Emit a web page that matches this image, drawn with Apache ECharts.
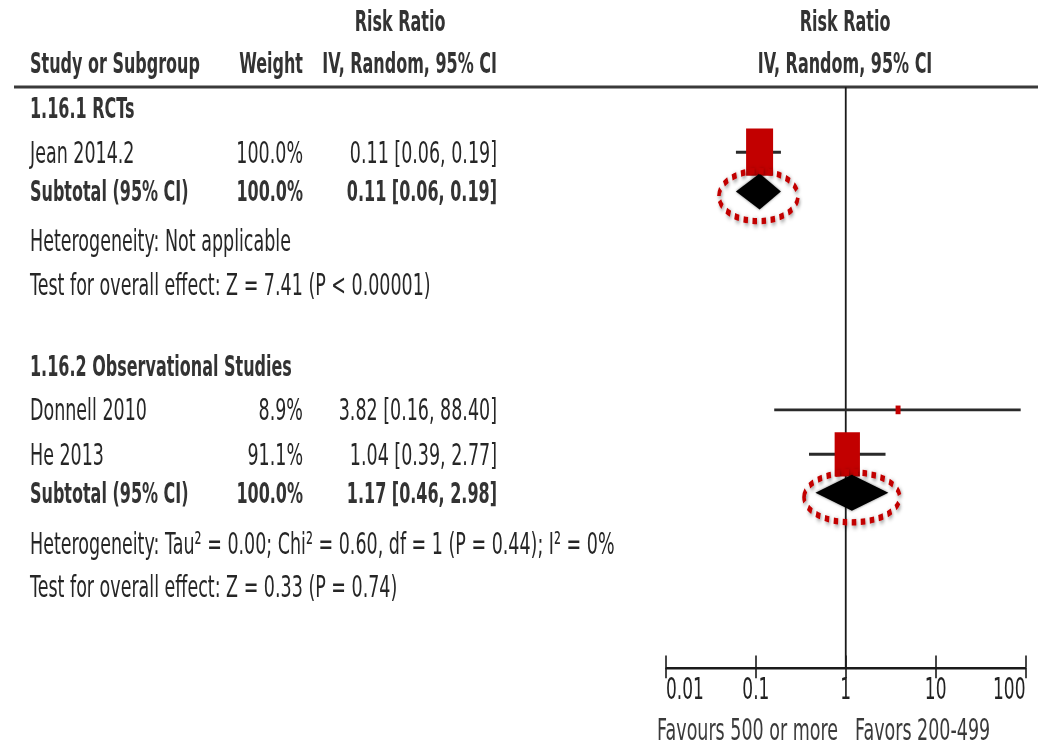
<!DOCTYPE html>
<html>
<head>
<meta charset="utf-8">
<title>Risk Ratio forest plot</title>
<script src="https://cdn.jsdelivr.net/npm/echarts@6/dist/echarts.min.js"></script>
<style>
  html, body { margin: 0; padding: 0; background: #fff; overflow: hidden; }
  #wrap { width: 1038px; height: 747px; overflow: hidden; }
  /* the plot is laid out at 1038x427 and stretched vertically to fill the page */
  #chart { width: 1038px; height: 427px; transform: scaleY(1.7494); transform-origin: 0 0; }
</style>
</head>
<body>
<div id="wrap"><div id="chart"></div></div>
<script>
// ---- data ----
const groupNames = ['1.16.1 RCTs', '1.16.2 Observational Studies'];
const studyNames = ['Jean 2014.2', 'Donnell 2010', 'He 2013'];
const studyGroup = [0, 1, 1];
const studyWeights = [100.0, 8.9, 91.1];
const studyRR = [0.11, 3.82, 1.04];
const studyLow = [0.06, 0.16, 0.39];
const studyHigh = [0.19, 88.40, 2.77];
const subtotalLabel = 'Subtotal (95% CI)';
const subtotalWeights = [100.0, 100.0];
const subtotalRR = [0.11, 1.17];
const subtotalLow = [0.06, 0.46];
const subtotalHigh = [0.19, 2.98];
const heterogeneityText = [
  'Heterogeneity: Not applicable',
  'Heterogeneity: Tau\u00B2 = 0.00; Chi\u00B2 = 0.60, df = 1 (P = 0.44); I\u00B2 = 0%'
];
const overallEffectText = [
  'Test for overall effect: Z = 7.41 (P < 0.00001)',
  'Test for overall effect: Z = 0.33 (P = 0.74)'
];
const tickValues = [0.01, 0.1, 1, 10, 100];
const headerTitle = 'Risk Ratio';
const headerColumns = ['Study or Subgroup', 'Weight', 'IV, Random, 95% CI'];
const favourLabels = ['Favours 500 or more', 'Favors 200-499'];

// ---- layout ----
// row positions in y-axis units (measured down from the header rule)
const LAYOUT = {
  groupRow: [12, 159.6],
  studyRow: [37.3, 184.6, 210.0],
  subtotalRow: [59.8, 232.0],
  hetRow: [88.0, 260.8],
  effectRow: [113.0, 285.8]
};
const ROWS_MAX = 332;
const GRID = { left: 666, right: 12.5, top: 49.7, height: ROWS_MAX };
const COL = { study: 30, weight: 303, ci: 497, riskTitle: 400 };
const FONT = 'DejaVu Sans';
const TXT = '#262626';
const BOLD_TXT = '#333333';
const RED = '#c20000';
const BOX_MAX = 27;

const pct = w => w.toFixed(1) + '%';
const ciText = (rr, lo, hi) => rr.toFixed(2) + ' [' + lo.toFixed(2) + ', ' + hi.toFixed(2) + ']';

// table rows built from the arrays above
const tableRows = [];
groupNames.forEach((g, gi) => {
  tableRows.push({ pos: LAYOUT.groupRow[gi], bold: true, cells: [[g, COL.study, 'left']] });
  studyNames.forEach((s, si) => {
    if (studyGroup[si] !== gi) return;
    tableRows.push({ pos: LAYOUT.studyRow[si], bold: false, cells: [
      [s, COL.study, 'left'],
      [pct(studyWeights[si]), COL.weight, 'right'],
      [ciText(studyRR[si], studyLow[si], studyHigh[si]), COL.ci, 'right']
    ] });
  });
  tableRows.push({ pos: LAYOUT.subtotalRow[gi], bold: true, cells: [
    [subtotalLabel, COL.study, 'left'],
    [pct(subtotalWeights[gi]), COL.weight, 'right'],
    [ciText(subtotalRR[gi], subtotalLow[gi], subtotalHigh[gi]), COL.ci, 'right']
  ] });
  tableRows.push({ pos: LAYOUT.hetRow[gi], bold: false, cells: [[heterogeneityText[gi], COL.study, 'left']] });
  tableRows.push({ pos: LAYOUT.effectRow[gi], bold: false, cells: [[overallEffectText[gi], COL.study, 'left']] });
});

const studyData = studyRR.map((rr, i) => [rr, studyLow[i], studyHigh[i], studyWeights[i], LAYOUT.studyRow[i]]);
const subtotalData = subtotalRR.map((rr, i) => [rr, subtotalLow[i], subtotalHigh[i], LAYOUT.subtotalRow[i]]);

const chart = echarts.init(document.getElementById('chart'), null, { renderer: 'svg' });

const logAxisBase = {
  type: 'log', logBase: 10, min: tickValues[0], max: tickValues[tickValues.length - 1],
  splitNumber: tickValues.length - 1, position: 'bottom', splitLine: { show: false }
};

chart.setOption({
  animation: false,
  backgroundColor: '#ffffff',
  grid: GRID,
  xAxis: [
    Object.assign({}, logAxisBase, {
      axisLine: { show: true, onZero: false, lineStyle: { color: '#1a1a1a', width: 1.5 } },
      axisTick: { show: true, length: 6, lineStyle: { color: '#1a1a1a', width: 1.6 } },
      axisLabel: {
        show: true, margin: 4, color: '#222', fontFamily: FONT, fontSize: 17,
        alignMinLabel: 'left', alignMaxLabel: 'right',
        formatter: v => String(Number(Number(v).toPrecision(3)))
      }
    }),
    Object.assign({}, logAxisBase, {
      axisLine: { show: false, onZero: false },
      axisTick: { show: true, inside: true, length: 7, lineStyle: { color: '#1a1a1a', width: 1.6 } },
      axisLabel: { show: false }
    })
  ],
  yAxis: { type: 'value', min: 0, max: ROWS_MAX, inverse: true, show: false },
  graphic: [
    { type: 'line', shape: { x1: 14, y1: GRID.top, x2: 1038, y2: GRID.top },
      style: { stroke: '#3a3a3a', lineWidth: 1.7 } },
    { type: 'text', x: COL.riskTitle, y: 12, style: { text: headerTitle, fill: BOLD_TXT, fontFamily: FONT, fontWeight: 'bold', fontSize: 16, align: 'center', verticalAlign: 'middle' } },
    { type: 'text', x: 845, y: 12, style: { text: headerTitle, fill: BOLD_TXT, fontFamily: FONT, fontWeight: 'bold', fontSize: 16, align: 'center', verticalAlign: 'middle' } },
    { type: 'text', x: COL.study, y: 36, style: { text: headerColumns[0], fill: BOLD_TXT, fontFamily: FONT, fontWeight: 'bold', fontSize: 16, align: 'left', verticalAlign: 'middle' } },
    { type: 'text', x: COL.weight, y: 36, style: { text: headerColumns[1], fill: BOLD_TXT, fontFamily: FONT, fontWeight: 'bold', fontSize: 16, align: 'right', verticalAlign: 'middle' } },
    { type: 'text', x: COL.ci, y: 36, style: { text: headerColumns[2], fill: BOLD_TXT, fontFamily: FONT, fontWeight: 'bold', fontSize: 16, align: 'right', verticalAlign: 'middle' } },
    { type: 'text', x: 845, y: 36, style: { text: headerColumns[2], fill: BOLD_TXT, fontFamily: FONT, fontWeight: 'bold', fontSize: 16, align: 'center', verticalAlign: 'middle' } },
    { type: 'text', x: 838, y: 417, style: { text: favourLabels[0], fill: '#3a3a3a', fontFamily: FONT, fontSize: 17.5, align: 'right', verticalAlign: 'middle' } },
    { type: 'text', x: 855, y: 417, style: { text: favourLabels[1], fill: '#3a3a3a', fontFamily: FONT, fontSize: 17.5, align: 'left', verticalAlign: 'middle' } }
  ],
  series: [
    // line of no effect at RR = 1
    {
      type: 'custom', z: 1, silent: true,
      data: [[1, 0]],
      encode: { x: 0, y: 1 },
      renderItem: (params, api) => {
        const top = api.coord([1, 0]);
        const bot = api.coord([1, ROWS_MAX]);
        return { type: 'line', shape: { x1: top[0], y1: top[1], x2: bot[0], y2: bot[1] },
          style: { stroke: '#1a1a1a', lineWidth: 1.8 } };
      }
    },
    // study estimates: CI whisker + weighted box
    {
      type: 'custom', z: 3, silent: true,
      data: studyData,
      encode: { x: [0, 1, 2], y: 4 },
      renderItem: (params, api) => {
        const rr = api.value(0), lo = api.value(1), hi = api.value(2), w = api.value(3), row = api.value(4);
        const c = api.coord([rr, row]);
        const a = api.coord([lo, row]);
        const b = api.coord([hi, row]);
        const side = BOX_MAX * Math.pow(w / 100, 0.7);
        return { type: 'group', children: [
          { type: 'line', shape: { x1: a[0], y1: a[1], x2: b[0], y2: b[1] },
            style: { stroke: '#2a2a2a', lineWidth: 1.7 } },
          { type: 'rect', shape: { x: c[0] - side / 2, y: c[1] - side / 2, width: side, height: side },
            style: { fill: RED } }
        ] };
      }
    },
    // subtotal diamonds with dotted highlight rings
    {
      type: 'custom', z: 4, silent: true,
      data: subtotalData,
      encode: { x: [0, 1, 2], y: 3 },
      renderItem: (params, api) => {
        const rr = api.value(0), lo = api.value(1), hi = api.value(2), row = api.value(3);
        const c = api.coord([rr, row]);
        const a = api.coord([lo, row]);
        const b = api.coord([hi, row]);
        const h = 10.3;
        const half = (b[0] - a[0]) / 2;
        const mid = (a[0] + b[0]) / 2;
        return { type: 'group', children: [
          { type: 'polygon', shape: { points: [[a[0], c[1]], [c[0], c[1] - h], [b[0], c[1]], [c[0], c[1] + h]] },
            style: { fill: '#000', shadowBlur: 2, shadowColor: 'rgba(0,0,0,0.5)' } },
          { type: 'ellipse', shape: { cx: mid, cy: c[1] + 2.6, rx: half * 0.6 + 26, ry: 14.3 },
            style: { fill: 'none', stroke: RED, lineWidth: 3.6, lineDash: [4.5, 4.5],
              shadowBlur: 3, shadowColor: 'rgba(0,0,0,0.45)', shadowOffsetX: 1, shadowOffsetY: 1 } }
        ] };
      }
    },
    // table text: study names, weights and risk ratios
    {
      type: 'custom', z: 5, silent: true,
      data: tableRows.map(r => [1, r.pos]),
      encode: { x: 0, y: 1 },
      renderItem: (params, api) => {
        const r = tableRows[params.dataIndex];
        const y = api.coord([1, api.value(1)])[1];
        return { type: 'group', children: r.cells.map(cell => ({
          type: 'text', x: cell[1], y: y,
          style: { text: cell[0], fill: r.bold ? BOLD_TXT : TXT, fontFamily: FONT,
            fontWeight: r.bold ? 'bold' : 'normal', fontSize: r.bold ? 16 : 17.5,
            align: cell[2], verticalAlign: 'middle' }
        })) };
      }
    }
  ]
});
</script>
</body>
</html>
